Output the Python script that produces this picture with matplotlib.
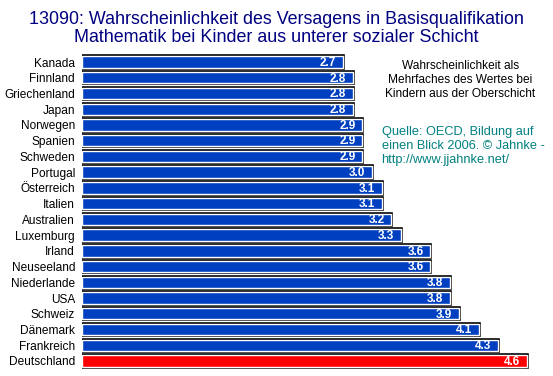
import numpy as np
import matplotlib.pyplot as plt
import matplotlib.patheffects as pe

# Daten
laender = ['Kanada', 'Finnland', 'Griechenland', 'Japan', 'Norwegen', 'Spanien', 'Schweden',
           'Portugal', 'Österreich', 'Italien', 'Australien', 'Luxemburg', 'Irland', 'Neuseeland',
           'Niederlande', 'USA', 'Schweiz', 'Dänemark', 'Frankreich', 'Deutschland']
werte = [2.7, 2.8, 2.8, 2.8, 2.9, 2.9, 2.9, 3.0, 3.1, 3.1, 3.2, 3.3, 3.6, 3.6, 3.8, 3.8, 3.9, 4.1, 4.3, 4.6]
farben = ['#0040c0'] * 19 + ['#ff0000']

plt.rcParams['font.family'] = ['Liberation Sans', 'DejaVu Sans']

fig = plt.figure(figsize=(5.53, 3.76), dpi=100)
ax = fig.add_axes([0.1483, 0.019, 0.8517, 0.837])

y = np.arange(len(laender))
bars = ax.barh(y, werte, height=0.72, color=farben, edgecolor='white', linewidth=1.0)
for b in bars:
    b.set_path_effects([pe.Stroke(linewidth=2.6, foreground='black'), pe.Normal()])

for yi, w in zip(y, werte):
    ax.text(w - 0.07, yi + 0.05, f'{w:.1f}', color='white', fontsize=8.5, fontweight='bold',
            ha='right', va='center')

ax.set_xlim(0, 4.87)
ax.set_ylim(len(laender) - 0.5, -0.5)
ax.set_yticks(y)
ax.set_yticklabels(laender, fontsize=8.6)
ax.tick_params(axis='y', length=0, pad=5)
ax.set_xticks([])
for s in ax.spines.values():
    s.set_visible(False)

fig.text(0.5, 0.925, '13090: Wahrscheinlichkeit des Versagens in Basisqualifikation\n'
         'Mathematik bei Kinder aus unterer sozialer Schicht',
         ha='center', va='center', fontsize=12.9, color='#000080', linespacing=1.1)

fig.text(0.832, 0.788, 'Wahrscheinlichkeit als\nMehrfaches des Wertes bei\nKindern aus der Oberschicht',
         ha='center', va='center', fontsize=8.6, color='black', linespacing=1.2)

fig.text(0.69, 0.612, 'Quelle: OECD, Bildung auf\neinen Blick 2006. © Jahnke -\nhttp://www.jjahnke.net/',
         ha='left', va='center', fontsize=9.2, color='#008080', linespacing=1.2)

fig.savefig('out.png', dpi=100, facecolor='white')
